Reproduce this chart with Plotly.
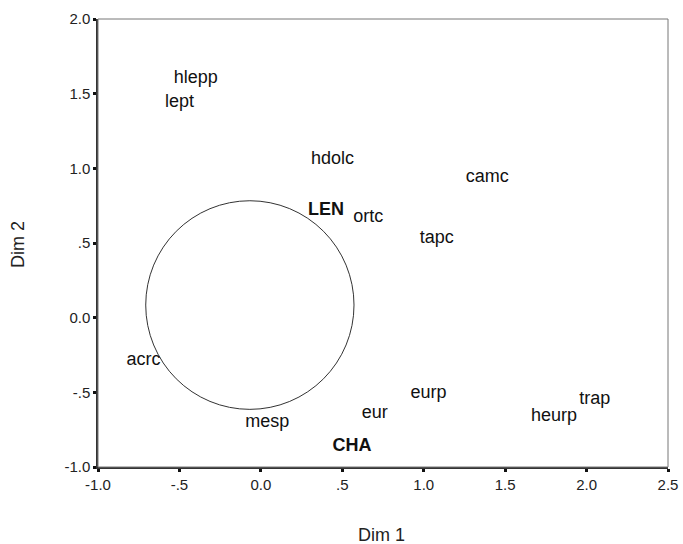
import plotly.graph_objects as go

labels = ["hlepp", "lept", "hdolc", "camc", "LEN", "ortc", "tapc", "acrc",
          "eurp", "trap", "heurp", "eur", "mesp", "CHA"]
dim1 = [-0.40, -0.50, 0.44, 1.39, 0.40, 0.66, 1.08, -0.72,
        1.03, 2.05, 1.80, 0.70, 0.04, 0.56]
dim2 = [1.60, 1.44, 1.06, 0.94, 0.72, 0.67, 0.53, -0.29,
        -0.51, -0.55, -0.66, -0.64, -0.70, -0.86]
bold = {"LEN", "CHA"}

x_ticks = [-1.0, -0.5, 0.0, 0.5, 1.0, 1.5, 2.0, 2.5]
x_ticktext = ["-1.0", "-.5", "0.0", ".5", "1.0", "1.5", "2.0", "2.5"]
y_ticks = [-1.0, -0.5, 0.0, 0.5, 1.0, 1.5, 2.0]
y_ticktext = ["-1.0", "-.5", "0.0", ".5", "1.0", "1.5", "2.0"]

circle_x = [-0.707, 0.572]
circle_y = [-0.614, 0.783]

FONT = "Liberation Sans, Arial"
texts = [f"<b>{l}</b>" if l in bold else l for l in labels]
sizes = [18 for l in labels]

fig = go.Figure()
fig.add_trace(go.Scatter(
    x=dim1, y=dim2, mode="text", text=texts,
    textposition="middle center",
    textfont=dict(family=FONT, size=sizes, color="#111"),
    showlegend=False, hoverinfo="skip"))

fig.add_shape(type="circle", xref="x", yref="y",
              x0=circle_x[0], x1=circle_x[1], y0=circle_y[0], y1=circle_y[1],
              line=dict(color="#333", width=1))
fig.add_shape(type="rect", xref="paper", yref="paper", x0=0, x1=1, y0=0, y1=1,
              line=dict(color="#777", width=1))

fig.update_xaxes(range=[-1.0, 2.5], tickvals=x_ticks, ticktext=x_ticktext,
                 showgrid=False, zeroline=False, showline=True, automargin=False,
                 linecolor="#333", linewidth=2, ticklabeloverflow="allow",
                 ticks="outside", ticklen=3, tickwidth=3, tickcolor="#111",
                 tickfont=dict(family=FONT, size=15, color="#222"))
fig.update_yaxes(range=[-1.0, 2.0], tickvals=y_ticks, ticktext=y_ticktext,
                 showgrid=False, zeroline=False, showline=True, automargin=False,
                 linecolor="#333", linewidth=1.5,
                 ticks="outside", ticklen=3, tickwidth=3, tickcolor="#111",
                 tickfont=dict(family=FONT, size=15, color="#222"))

fig.add_annotation(text="Dim 1", xref="paper", yref="paper", x=0.498, y=-0.152,
                   xanchor="center", yanchor="middle", showarrow=False,
                   font=dict(family=FONT, size=18, color="#222"))
fig.add_annotation(text="Dim 2", xref="paper", yref="paper", x=-0.139, y=0.497,
                   xanchor="center", yanchor="middle", showarrow=False, textangle=-90,
                   font=dict(family=FONT, size=18, color="#222"))

fig.update_layout(width=683, height=544,
                  margin=dict(l=98, r=15, t=19, b=77),
                  plot_bgcolor="white", paper_bgcolor="white")

fig.write_html("out.html")
